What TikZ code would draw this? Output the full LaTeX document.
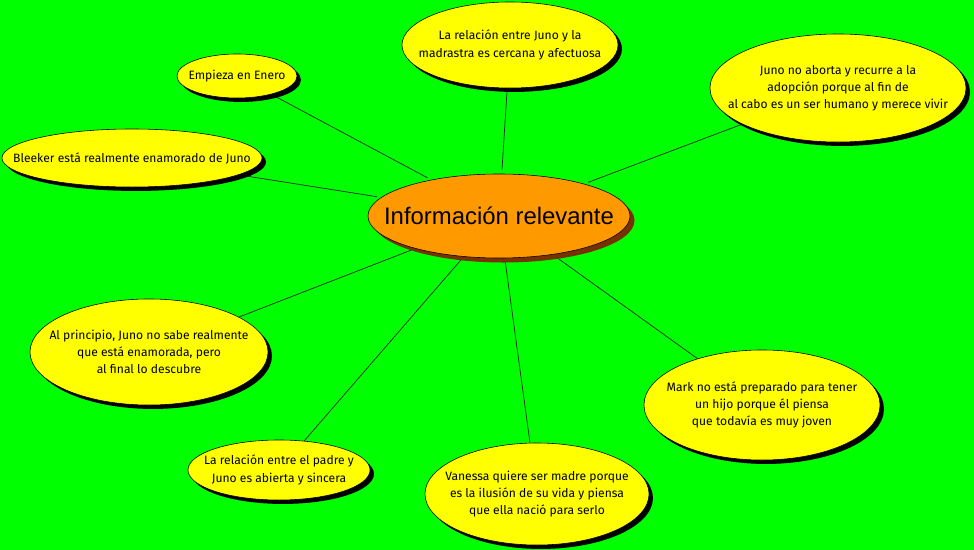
\documentclass[tikz,border=0pt]{standalone}
\usepackage{fontspec}
\setmainfont{Fira Sans}
\newfontfamily\arialfont{Liberation Sans}
\usetikzlibrary{arrows.meta,shapes.geometric,shadows,backgrounds}
\definecolor{bggreen}{RGB}{0,255,0}
\definecolor{idea}{RGB}{255,255,0}
\definecolor{centro}{RGB}{255,153,0}
\definecolor{sombra}{RGB}{120,50,0}
\tikzset {
  >=Stealth,
  every node/.style={font=\fontsize{8.6}{12.2}\selectfont},
  oval/.style 2 args={minimum width={#1*0.7113pt}, minimum height={#2*0.7113pt}},
  txt/.style={label={[align=center]center:#1}},
  leaf/.style={ellipse, draw, thin, fill=idea, inner sep=0pt,
    drop shadow={shadow xshift=2.8pt, shadow yshift=-2.8pt, fill=black, opacity=1}},
  hub/.style={ellipse, draw, thin, fill=centro, inner sep=0pt,
    drop shadow={shadow xshift=3.2pt, shadow yshift=-3.2pt, fill=sombra, opacity=1}},
  spoke/.style={draw=black!85, line width=0.5pt},
}

\begin{document}
\begin{tikzpicture}[x=0.025cm, y=-0.025cm]
          \useasboundingbox (0,0) rectangle (974,550);
          \node[hub, oval={262}{84},
            label={[font=\arialfont\fontsize{17}{20}\selectfont]center:Información relevante}] (info) at (499,216) {};
          \node[leaf, oval={120}{44}, txt={Empieza en Enero}] (enero) at (237,76) {};
          \node[leaf, oval={216}{86},
            txt={La relación entre Juno y la\\madrastra es cercana y afectuosa}] (madrastra) at (510,45) {};
          \node[leaf, oval={256}{108},
            txt={Juno no aborta y recurre a la\\adopción porque al fin de\\al cabo es un ser humano y merece vivir}] (aborta) at (838,88) {};
          \node[leaf, oval={260}{58},
            txt={Bleeker está realmente enamorado de Juno}] (bleeker) at (132,158) {};
          \node[leaf, oval={238}{106},
            txt={Al principio, Juno no sabe realmente\\que está enamorada, pero\\al final lo descubre}] (principio) at (149,352) {};
          \node[leaf, oval={182}{60},
            txt={La relación entre el padre y\\Juno es abierta y sincera}] (padre) at (279,470) {};
          \node[leaf, oval={224}{102},
            txt={Vanessa quiere ser madre porque\\es la ilusión de su vida y piensa\\que ella nació para serlo}] (vanessa) at (537,494) {};
          \node[leaf, oval={236}{110},
            txt={Mark no está preparado para tener\\un hijo porque él piensa\\que todavía es muy joven}] (mark) at (762,405) {};
          \begin{pgfonlayer}{background}
            \fill[bggreen] (0,0) rectangle (974,550);
            \foreach \leaf in {enero,madrastra,aborta,bleeker,principio,padre,vanessa,mark}
              \draw[spoke, shorten <=3pt] (info) -- (\leaf);
          \end{pgfonlayer}
        \end{tikzpicture}
\end{document}
